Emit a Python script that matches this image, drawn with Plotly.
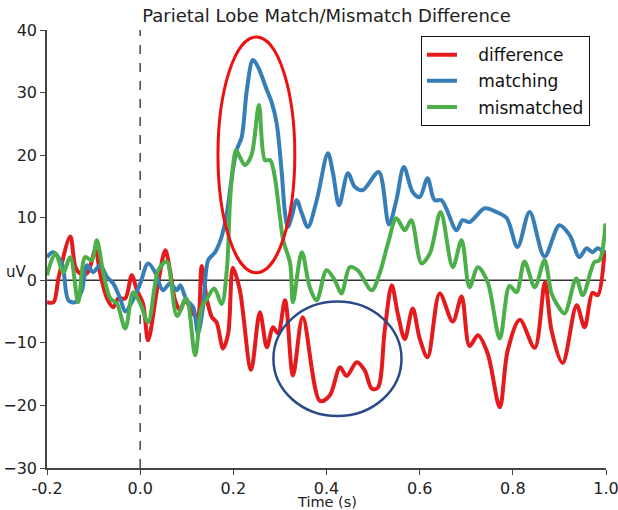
import plotly.graph_objects as go

# ---- data ----
t_difference = [-0.2, -0.186, -0.175, -0.15, -0.139, -0.129, -0.114, -0.096, -0.086, -0.071,
                -0.058, -0.047, -0.032, -0.018, -0.007, 0.006, 0.017, 0.036, 0.054, 0.064,
                0.075, 0.086, 0.096, 0.122, 0.132, 0.143, 0.154, 0.164, 0.178, 0.189,
                0.199, 0.214, 0.238, 0.257, 0.272, 0.285, 0.296, 0.311, 0.328, 0.349,
                0.386, 0.407, 0.429, 0.443, 0.465, 0.482, 0.497, 0.51, 0.525, 0.54,
                0.553, 0.568, 0.585, 0.6, 0.617, 0.643, 0.671, 0.69, 0.707, 0.725,
                0.746, 0.772, 0.789, 0.815, 0.847, 0.869, 0.883, 0.907, 0.937, 0.954,
                0.971, 0.982, 0.997]
v_difference = [-3.5, -3.5, 0.5, 7.0, 2.1, 1.1, 1.1, 4.8, 1.1, -2.9,
                -4.3, -2.9, -2.9, 0.8, -1.6, -3.7, -9.6, -1.6, 4.8, 1.6,
                -3.2, -4.8, -3.2, -6.0, 2.3, -3.0, -5.9, -6.7, -10.9, -8.5,
                2.0, -1.6, -14.3, -5.1, -10.7, -7.5, -8.5, -3.2, -15.2, -5.9,
                -19.3, -18.4, -13.9, -15.3, -13.1, -14.4, -17.3, -17.2, -8.0, -0.8,
                -5.3, -9.4, -4.5, -9.3, -12.3, -2.1, -6.6, -2.6, -10.5, -8.8,
                -11.7, -20.3, -11.2, -6.3, -10.8, -0.3, -8.0, -13.2, -4.0, -7.5,
                -2.0, -2.4, 4.8]

t_matching = [-0.2, -0.187, -0.168, -0.154, -0.139, -0.125, -0.114, -0.101, -0.086, -0.071,
              -0.058, -0.043, -0.032, -0.018, 0.0, 0.017, 0.032, 0.049, 0.064, 0.079,
              0.086, 0.1, 0.114, 0.124, 0.135, 0.146, 0.161, 0.175, 0.186, 0.196,
              0.207, 0.218, 0.229, 0.242, 0.253, 0.272, 0.282, 0.293, 0.304, 0.311,
              0.317, 0.325, 0.336, 0.347, 0.36, 0.379, 0.403, 0.414, 0.427, 0.446,
              0.461, 0.478, 0.512, 0.534, 0.55, 0.566, 0.585, 0.6, 0.617, 0.632,
              0.647, 0.679, 0.692, 0.707, 0.74, 0.765, 0.787, 0.81, 0.836, 0.868,
              0.9, 0.922, 0.943, 0.958, 0.971, 0.982, 0.997]
v_matching = [3.7, 4.5, 2.7, -3.2, -3.5, -1.6, 2.4, 1.3, 2.4, 0.5,
              -0.5, -2.9, -5.0, -3.5, -0.5, 2.7, 1.3, -1.6, -0.5, -1.6,
              -0.8, -3.2, -4.3, -8.5, -4.3, 3.2, 4.5, 7.0, 10.7, 16.0,
              20.8, 22.9, 30.4, 35.2, 34.1, 30.4, 28.5, 25.1, 17.1, 10.7,
              8.5, 10.1, 12.8, 10.7, 8.5, 12.8, 20.3, 17.1, 12.0, 17.1,
              14.9, 14.4, 17.3, 8.9, 12.8, 18.1, 14.1, 13.3, 16.3, 12.8,
              12.8, 8.0, 9.6, 9.3, 11.5, 10.9, 9.9, 5.3, 10.9, 3.8,
              8.8, 7.2, 3.7, 5.1, 4.5, 5.1, 4.3]

t_mismatched = [-0.2, -0.182, -0.165, -0.15, -0.133, -0.118, -0.104, -0.093, -0.079, -0.064,
                -0.05, -0.032, -0.015, 0.0, 0.017, 0.039, 0.057, 0.079, 0.099, 0.118,
                0.132, 0.143, 0.159, 0.175, 0.186, 0.193, 0.199, 0.206, 0.214, 0.225,
                0.239, 0.255, 0.268, 0.279, 0.289, 0.3, 0.307, 0.322, 0.328, 0.347,
                0.364, 0.379, 0.4, 0.418, 0.432, 0.45, 0.467, 0.497, 0.514, 0.532,
                0.55, 0.568, 0.582, 0.604, 0.622, 0.645, 0.671, 0.69, 0.707, 0.725,
                0.746, 0.772, 0.793, 0.808, 0.825, 0.847, 0.868, 0.883, 0.896, 0.911,
                0.936, 0.95, 0.975, 0.986, 0.999]
v_mismatched = [0.8, 4.3, 1.3, 3.7, -3.5, 3.7, 3.2, 6.4, 1.1, -2.9,
                -3.7, -7.7, -1.9, -3.7, -6.7, 1.6, 3.0, -5.7, -2.9, -12.0,
                -4.3, -3.0, -1.3, -3.8, 1.6, 12.8, 18.1, 20.8, 19.7, 18.4,
                20.0, 28.0, 19.2, 19.2, 16.5, 10.1, 6.4, 2.7, -3.5, 4.5,
                -1.1, -3.2, 1.6, 0.0, -2.1, 2.1, 1.6, -1.6, 1.1, 5.9,
                9.9, 8.0, 9.6, 2.7, 4.3, 10.9, 2.1, 6.4, -1.1, 2.1,
                -0.3, -9.3, -0.9, -1.9, 3.0, -1.1, 3.2, -2.1, -4.0, -5.3,
                0.3, -2.4, 2.9, 3.2, 9.1]

x_ticks = [-0.2, 0.0, 0.2, 0.4, 0.6, 0.8, 1.0]
x_tick_labels = ["-0.2", "0.0", "0.2", "0.4", "0.6", "0.8", "1.0"]
y_ticks = [-30, -20, -10, 0, 10, 20, 30, 40]
y_tick_labels = ["\u221230", "\u221220", "\u221210", "0", "10", "20", "30", "40"]

# highlight ellipses (data-space bounds)
red_ellipse = dict(x0=0.167, x1=0.332, y0=1.2, y1=38.9)
blue_ellipse = dict(x0=0.286, x1=0.561, y0=-21.7, y1=-3.4)

FONT = "DejaVu Sans"
PAD = "\u00a0\u00a0\u00a0"  # extra gap between legend sample and text
series = [
    ("difference", t_difference, v_difference, "#e41a1c"),
    ("matching", t_matching, v_matching, "#377eb8"),
    ("mismatched", t_mismatched, v_mismatched, "#4daf4a"),
]

fig = go.Figure()
for name, t, v, c in series:
    fig.add_trace(go.Scatter(
        x=t, y=v, mode="lines", name=PAD + name, legendgroup=name,
        line=dict(color=c, width=4, shape="spline", smoothing=0.9),
    ))

fig.add_shape(type="line", x0=-0.2, x1=1.0, y0=0, y1=0, xref="x", yref="y",
              line=dict(color="#333333", width=1.5), layer="below")
fig.add_shape(type="line", x0=0, x1=0, y0=-30, y1=40, xref="x", yref="y",
              line=dict(color="#444444", width=1.5, dash="dash"), layer="below")
fig.add_shape(type="circle", xref="x", yref="y", line=dict(color="#ee1111", width=3),
              **red_ellipse)
fig.add_shape(type="circle", xref="x", yref="y", line=dict(color="#2a4a8a", width=2.5),
              **blue_ellipse)

fig.update_layout(
    width=618, height=510,
    margin=dict(l=47, r=12, t=30, b=42, autoexpand=False),
    paper_bgcolor="white", plot_bgcolor="white",
    font=dict(family=FONT, size=16, color="#222222"),
    title=dict(text="Parietal Lobe Match/Mismatch Difference", x=0.5, xref="paper",
               xanchor="center", y=0.969, yref="container", yanchor="middle",
               font=dict(family=FONT, size=18, color="#222222"), automargin=False),
    showlegend=True,
    legend=dict(x=0.669, y=0.986, xanchor="left", yanchor="top",
                bordercolor="#111111", borderwidth=1, bgcolor="white",
                font=dict(family=FONT, size=17, color="#111111"),
                tracegroupgap=1),
    xaxis=dict(range=[-0.2, 1.0], tickvals=x_ticks, ticktext=x_tick_labels,
               showgrid=False, zeroline=False, showline=True, linecolor="#444444",
               linewidth=1.5, ticks="outside", ticklen=5, tickcolor="#444444",
               automargin=False, ticklabeloverflow="allow",
               tickfont=dict(family=FONT, size=16, color="#222222")),
    yaxis=dict(range=[-30, 40], tickvals=y_ticks, ticktext=y_tick_labels,
               showgrid=False, zeroline=False, showline=True, linecolor="#444444",
               linewidth=1.5, ticks="outside", ticklen=5, tickcolor="#444444",
               automargin=False, ticklabeloverflow="allow",
               tickfont=dict(family=FONT, size=16, color="#222222")),
    annotations=[
        dict(text="Time (s)", x=0.5, xref="paper", y=0, yref="paper", yanchor="top",
             yshift=-24, showarrow=False, font=dict(family=FONT, size=14.5, color="#222222")),
        dict(text="uV", x=-0.033, xref="paper", y=0, yref="y", xanchor="right",
             yanchor="middle", yshift=8, showarrow=False,
             font=dict(family=FONT, size=15, color="#222222")),
    ],
)

# remove the default page margin so the figure fills the 618x510 window exactly
fig.write_html("out.html", config={"displayModeBar": False},
               post_script="document.body.style.margin='0';")
